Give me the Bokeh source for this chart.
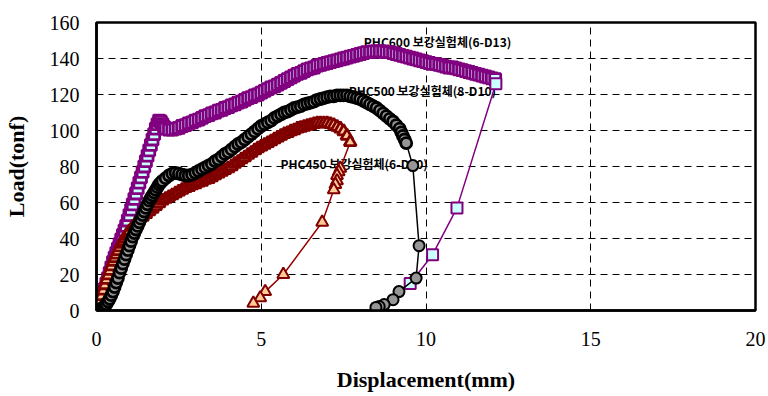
from bokeh.plotting import figure
from bokeh.models import FixedTicker, Label, Range1d
from bokeh.embed import file_html
from bokeh.resources import INLINE

# ---------------- data ----------------
x_ticks = [0, 5, 10, 15, 20]
y_ticks = [0, 20, 40, 60, 80, 100, 120, 140, 160]

labels = ["PHC600 보강실험체(6-D13)", "PHC500 보강실험체(8-D10)", "PHC450 보강실험체(6-D10)"]

phc600_x = [0, 0.05, 0.1, 0.15, 0.2, 0.25, 0.3, 0.35, 0.4, 0.45, 0.5, 0.55, 0.6, 0.65, 0.7, 0.75,
            0.8, 0.85, 0.9, 0.95, 1.0, 1.05, 1.1, 1.15, 1.2, 1.25, 1.3, 1.35, 1.4, 1.45, 1.5, 1.55,
            1.6, 1.65, 1.7, 1.75, 1.8, 1.85, 1.9, 1.95, 2.0, 2.05, 2.1, 2.2, 2.3, 2.4, 2.5, 2.6,
            2.7, 2.8, 2.9, 3.0, 3.1, 3.2, 3.3, 3.4, 3.5, 3.6, 3.7, 3.8, 3.9, 4.0, 4.1, 4.2, 4.3,
            4.4, 4.5, 4.6, 4.7, 4.8, 4.9, 5.0, 5.1, 5.2, 5.3, 5.4, 5.5, 5.6, 5.7, 5.8, 5.9, 6.0,
            6.1, 6.2, 6.3, 6.4, 6.5, 6.6, 6.7, 6.8, 6.9, 7.0, 7.1, 7.2, 7.3, 7.4, 7.5, 7.6, 7.7,
            7.8, 7.9, 8.0, 8.1, 8.2, 8.3, 8.4, 8.5, 8.6, 8.7, 8.8, 8.9, 9.0, 9.1, 9.2, 9.3, 9.4,
            9.5, 9.6, 9.7, 9.8, 9.9, 10.0, 10.1, 10.2, 10.3, 10.4, 10.5, 10.6, 10.7, 10.8, 10.9,
            11.0, 11.1, 11.2, 11.3, 11.4, 11.5, 11.6, 11.7, 11.8, 11.9, 12.0, 12.1,
            12.12, 10.94, 10.2, 9.52]
phc600_y = [0, 2, 4, 6.5, 9, 12, 15, 18, 21, 24, 27, 29.5, 32, 34.5, 37, 39.5,
            42, 44.5, 47, 50, 53, 56, 59, 62, 65, 68, 71, 74, 77, 80, 83, 86,
            89, 92, 95, 98, 101, 103.5, 105.5, 105, 103.5, 102, 101, 100.5, 100.5, 101, 101.5, 102.5,
            103, 104, 104.5, 105.5, 106, 107, 108, 108.5, 109.5, 110, 111, 111.5, 112.5, 113, 114, 114.5, 115.5,
            116, 117, 118, 118.5, 119.5, 120, 121, 122, 123, 124, 124.5, 125.5, 126.5, 127.5, 128.5, 129.5, 130.5,
            131.5, 132, 133, 134, 134.5, 135, 136, 136.5, 137, 137.5, 138, 138.5, 139, 139.5, 140, 140.5, 141,
            141.5, 142, 142.5, 143, 143.5, 143.5, 144, 144, 144, 144, 143.5, 143.5, 143, 142.5, 142, 141.5, 141,
            140.5, 140, 139.5, 139, 138.5, 138, 137.5, 137, 137, 136.5, 136, 135.5, 135, 135, 134.5,
            134, 133.5, 133, 132.5, 132, 131.5, 131, 130.5, 130, 129.5, 129, 128.5,
            126, 57, 31, 15]

phc500_x = [0, 0.05, 0.1, 0.15, 0.2, 0.25, 0.3, 0.35, 0.4, 0.45, 0.5, 0.55, 0.6, 0.65, 0.7, 0.75,
            0.8, 0.85, 0.9, 0.95, 1.0, 1.05, 1.1, 1.15, 1.2, 1.25, 1.3, 1.35, 1.4, 1.45, 1.5, 1.55,
            1.6, 1.65, 1.7, 1.75, 1.8, 1.85, 1.9, 1.95, 2.0, 2.1, 2.2, 2.3, 2.4, 2.5, 2.6, 2.7,
            2.8, 2.9, 3.0, 3.1, 3.2, 3.3, 3.4, 3.5, 3.6, 3.7, 3.8, 3.9, 4.0, 4.1, 4.2, 4.3, 4.4,
            4.5, 4.6, 4.7, 4.8, 4.9, 5.0, 5.1, 5.2, 5.3, 5.4, 5.5, 5.6, 5.7, 5.8, 5.9, 6.0, 6.1,
            6.2, 6.3, 6.4, 6.5, 6.6, 6.7, 6.8, 6.9, 7.0, 7.1, 7.2, 7.3, 7.4, 7.5, 7.6, 7.7, 7.8,
            7.9, 8.0, 8.1, 8.2, 8.3, 8.4, 8.5, 8.6, 8.7, 8.8, 8.9, 9.0, 9.1, 9.2, 9.25, 9.3, 9.35,
            9.4, 9.6, 9.79, 9.7, 9.18, 9.0, 8.73, 8.58, 8.48]
phc500_y = [0, 0.2, 0.5, 1, 1.5, 2.5, 3.5, 5, 6.5, 8.5, 10.5, 13, 15.5, 18, 21, 23.5,
            26, 28.5, 31, 33.5, 36, 38.5, 41, 43, 45, 47, 49, 51, 53, 55, 57, 59,
            61, 62.5, 64, 65.5, 67, 68.5, 70, 71, 72, 73.5, 75, 76, 76.5, 76, 75.5, 75,
            75, 75.5, 76.5, 77.5, 78.5, 79.5, 80.5, 81.5, 83, 84, 85.5, 87, 88, 89.5, 91, 92.5, 93.5,
            95, 96.5, 98, 99.5, 101, 102.5, 103.5, 104.5, 105.5, 107, 108, 109, 110, 110.5, 111.5, 112.5, 113,
            113.5, 114.5, 115, 115.5, 116, 117, 117.5, 118, 118.5, 119, 119, 119.5, 119.5, 119.5, 119.5, 119, 118.5,
            118, 117.5, 116.5, 115.5, 114.5, 113.5, 112.5, 111, 109.5, 108, 106.5, 105, 103, 101, 99, 97, 95,
            93, 80.5, 36, 18, 10.5, 6, 3.3, 2.2, 1.7]

phc450_x = [0, 0.05, 0.1, 0.15, 0.2, 0.25, 0.3, 0.35, 0.4, 0.45, 0.5, 0.55, 0.6, 0.65, 0.7, 0.75,
            0.8, 0.85, 0.9, 0.95, 1.0, 1.1, 1.2, 1.3, 1.4, 1.5, 1.6, 1.7, 1.8, 1.9, 2.0, 2.1,
            2.2, 2.3, 2.4, 2.5, 2.6, 2.7, 2.8, 2.9, 3.0, 3.1, 3.2, 3.3, 3.4, 3.5, 3.6, 3.7, 3.8,
            3.9, 4.0, 4.1, 4.2, 4.3, 4.4, 4.5, 4.6, 4.7, 4.8, 4.9, 5.0, 5.1, 5.2, 5.3, 5.4, 5.5,
            5.6, 5.7, 5.8, 5.9, 6.0, 6.1, 6.2, 6.3, 6.4, 6.5, 6.6, 6.7, 6.8, 6.9, 7.0, 7.1, 7.2,
            7.3, 7.4, 7.5, 7.6, 7.7,
            7.4, 7.35, 7.3, 7.3, 7.25, 7.2, 6.85, 5.67, 5.12, 4.97, 4.76]
phc450_y = [0, 2.5, 5, 8, 11, 14, 17, 19.5, 22, 24.5, 27, 29, 31, 33, 35, 37,
            38.5, 40, 41.5, 43, 44, 46.5, 48.5, 50.5, 52, 53.5, 55, 56.5, 58, 59.5, 61, 62,
            63, 64, 65, 66, 67, 68, 68.5, 69.5, 70, 71, 71.5, 72.5, 73, 74, 75, 76, 77,
            78, 79, 80, 81.5, 82.5, 84, 85, 86.5, 87.5, 89, 90, 91, 92, 93, 94, 95, 96,
            97, 98, 98.5, 99.5, 100, 101, 101.5, 102, 102.5, 103, 103.5, 104, 104, 104, 104, 103.5, 103,
            102, 101, 99.5, 97, 93.5,
            79, 77, 75, 72, 70, 67, 49, 20, 10.5, 7, 4]

# number of trailing (sparse, unloading) points in each series
n600_tail, n500_tail, n450_tail = 4, 8, 11

# ---------------- figure ----------------
p = figure(width=768, height=394, output_backend="svg", toolbar_location=None,
           x_range=Range1d(0, 20), y_range=Range1d(0, 160),
           min_border_left=95, min_border_right=13, min_border_top=22, min_border_bottom=82)
p.background_fill_color = "white"
p.border_fill_color = "white"
p.outline_line_color = "black"
p.outline_line_width = 2.5
p.outline_line_alpha = 1.0

p.xaxis.ticker = FixedTicker(ticks=x_ticks)
p.yaxis.ticker = FixedTicker(ticks=y_ticks)
for ax in (p.xaxis[0], p.yaxis[0]):
    ax.axis_line_width = 2.5
    ax.axis_line_color = "black"
    ax.major_tick_in = 5
    ax.major_tick_out = 0
    ax.major_tick_line_color = "black"
    ax.minor_tick_line_color = None
    ax.major_label_text_font = "Liberation Serif"
    ax.major_label_text_font_size = "20px"
    ax.major_label_text_color = "black"
    ax.axis_label_text_font = "Liberation Serif"
    ax.axis_label_text_font_size = "22px"
    ax.axis_label_text_font_style = "bold"
    ax.axis_label_text_color = "black"
p.xaxis.axis_label = "Displacement(mm)"
p.yaxis.axis_label = "Load(tonf)"
p.xaxis.major_label_standoff = 21
p.yaxis.major_label_standoff = 17
p.xaxis.axis_label_standoff = 18
p.yaxis.axis_label_standoff = 18

for g in (p.xgrid[0], p.ygrid[0]):
    g.grid_line_color = "black"
    g.grid_line_alpha = 1.0
    g.grid_line_width = 1
    g.grid_line_dash = "7 5"
p.xgrid.ticker = FixedTicker(ticks=x_ticks)
p.ygrid.ticker = FixedTicker(ticks=y_ticks)

# series labels (under the data)
lab_pos = [(10.35, 149.5), (9.89, 122.5), (7.82, 81.7)]
for t, (lx, ly) in zip(labels, lab_pos):
    p.add_layout(Label(x=lx, y=ly, text=t, text_align="center", text_baseline="middle",
                       text_font="Noto Sans CJK KR", text_font_style="bold",
                       text_font_size="12px", text_color="black", level="underlay"))


def series(xs, ys, n_tail, marker, size, fill, edge, line_col):
    p.line(xs, ys, line_color=line_col, line_width=1.5)
    k = len(xs) - n_tail
    # dense loading part: markers overlap into a solid band
    p.scatter(xs[:k], ys[:k], marker=marker, size=size, fill_color=fill,
              line_color=edge, line_width=2.8)
    # sparse unloading part: separate markers
    p.scatter(xs[k:], ys[k:], marker=marker, size=size, fill_color=fill,
              line_color=edge, line_width=2.0)


series(phc600_x, phc600_y, n600_tail, "square", 11, "#CCFFFF", "#800080", "#800080")
series(phc450_x, phc450_y, n450_tail, "triangle", 12, "#FFCC99", "#800000", "#990000")
series(phc500_x, phc500_y, n500_tail, "circle", 11, "#969696", "black", "black")

open("out.html", "w").write(file_html(p, INLINE))
